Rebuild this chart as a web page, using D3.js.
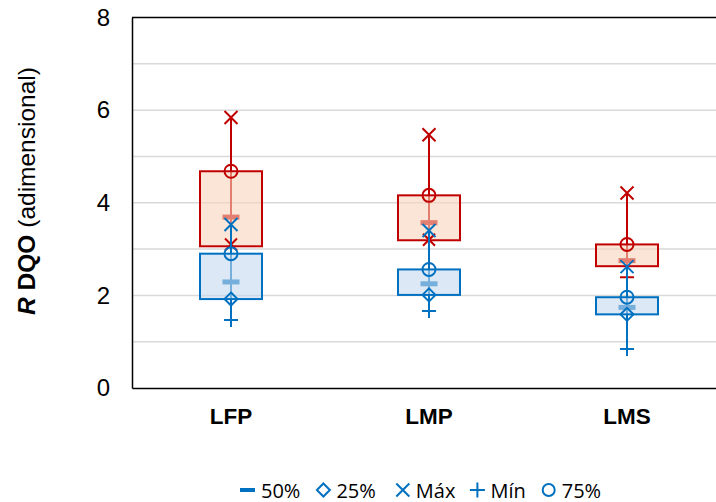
<!DOCTYPE html>
<html><head><meta charset="utf-8">
<script src="https://cdn.jsdelivr.net/npm/d3@7"></script>
<style>
html,body{margin:0;padding:0;background:#fff;}
svg{display:block;font-family:"Liberation Sans",Arial,sans-serif;}
</style></head>
<body>
<svg id="chart" width="716" height="502"></svg>
<script>
// ---- data ----
const categories = ["LFP", "LMP", "LMS"];
const yTicks = [0, 2, 4, 6, 8];
const gridValues = [1, 2, 3, 4, 5, 6, 7];

// upper (red) series
const redMax = [5.84, 5.47, 4.21];
const redP75 = [4.68, 4.16, 3.10];
const redP50 = [3.69, 3.57, 2.75];
const redP25 = [3.06, 3.19, 2.63];
const redMin = [3.10, 3.20, 2.39];

// lower (blue) series
const blueMax = [3.53, 3.40, 2.62];
const blueP75 = [2.90, 2.56, 1.96];
const blueP50 = [2.29, 2.25, 1.74];
const blueP25 = [1.92, 2.01, 1.59];
const blueMin = [1.47, 1.66, 0.84];

const legendLabels = ["50%", "25%", "Máx", "Mín", "75%"];

// ---- styles ----
const RED = "#c00000", BLUE = "#0070c0";
const redMinShape = ["x", "x", "plus"];

(function () {
const svg = d3.select("#chart");
const mLeft = 132, mTop = 17.5, mBottom = 388, bandW = 198;
const x = d3.scaleBand().domain(categories).range([mLeft, mLeft + bandW * categories.length]).padding(0);
const y = d3.scaleLinear().domain([0, 8]).range([mBottom, mTop]);
const cx = c => x(c) + x.bandwidth() / 2;
const boxW = 62;

// gridlines
svg.append("g").selectAll("line").data(gridValues).join("line")
  .attr("x1", mLeft).attr("x2", 716)
  .attr("y1", d => y(d)).attr("y2", d => y(d))
  .attr("stroke", "#d9d9d9").attr("stroke-width", 1.5);

// axes
const yAxis = d3.axisLeft(y).tickValues(yTicks).tickSize(0).tickPadding(22).tickFormat(d3.format("d"));
const gy = svg.append("g").attr("transform", `translate(${mLeft},0)`).call(yAxis);
gy.select(".domain").attr("stroke", "#000").attr("stroke-width", 1.5);
gy.selectAll("text").attr("font-size", 24).attr("fill", "#000")
  .attr("font-family", "Liberation Sans, Arial, sans-serif");

const xAxis = d3.axisBottom(x).tickSize(0).tickPadding(20);
const gx = svg.append("g").attr("transform", `translate(0,${mBottom})`).call(xAxis);
gx.select(".domain").attr("stroke", "#000").attr("stroke-width", 1.5);
gx.selectAll("text").attr("font-size", 22.5).attr("font-weight", "bold").attr("fill", "#000")
  .attr("font-family", "Liberation Sans, Arial, sans-serif");

// top border
svg.append("line").attr("x1", mLeft).attr("x2", 716).attr("y1", y(8)).attr("y2", y(8))
  .attr("stroke", "#000").attr("stroke-width", 1.5);

// y title
const title = svg.append("text")
  .attr("transform", `translate(26,191) rotate(-90)`)
  .attr("text-anchor", "middle").attr("dominant-baseline", "central")
  .attr("font-size", 24.5).attr("fill", "#000");
title.append("tspan").attr("font-weight", "bold").attr("font-style", "italic").text("R");
title.append("tspan").attr("font-weight", "bold").text(" DQO");
title.append("tspan").text(" (adimensional)");

// symbol paths
const sym = {
  x: s => `M${-s},${-s}L${s},${s}M${-s},${s}L${s},${-s}`,
  plus: s => `M${-s},0L${s},0M0,${-s}L0,${s}`,
  diamond: s => `M0,${-s}L${s},0L0,${s}L${-s},0Z`
};

function drawSeries(color, fillColor, mx, p75, p50, p25, mn, minShapes, showDiamond) {
  const g = svg.append("g");
  categories.forEach((c, i) => {
    const X = cx(c);
    g.append("line").attr("x1", X).attr("x2", X).attr("y1", y(mx[i])).attr("y2", y(mn[i]))
      .attr("stroke", color).attr("stroke-width", 2);
    g.append("rect").attr("x", X - 8.5).attr("y", y(p50[i]) - 2.5).attr("width", 17).attr("height", 5)
      .attr("fill", color);
    g.append("rect").attr("x", X - boxW / 2).attr("y", y(p75[i]))
      .attr("width", boxW).attr("height", y(p25[i]) - y(p75[i]))
      .attr("fill", fillColor).attr("fill-opacity", 0.6)
      .attr("stroke", color).attr("stroke-width", 2);
    g.append("circle").attr("cx", X).attr("cy", y(p75[i])).attr("r", 6.5)
      .attr("fill", "none").attr("stroke", color).attr("stroke-width", 2);
    if (showDiamond) {
      g.append("path").attr("transform", `translate(${X},${y(p25[i])})`).attr("d", sym.diamond(6.5))
        .attr("fill", "none").attr("stroke", color).attr("stroke-width", 2);
    }
    g.append("path").attr("transform", `translate(${X},${y(mx[i])})`).attr("d", sym.x(6.5))
      .attr("fill", "none").attr("stroke", color).attr("stroke-width", 2);
    g.append("path").attr("transform", `translate(${X},${y(mn[i])})`).attr("d", sym[minShapes[i]](minShapes[i] === "x" ? 6 : 7))
      .attr("fill", "none").attr("stroke", color).attr("stroke-width", 2);
  });
}

drawSeries(RED, "#f8d4bb", redMax, redP75, redP50, redP25, redMin, redMinShape, false);
drawSeries(BLUE, "#c5d9ee", blueMax, blueP75, blueP50, blueP25, blueMin, ["plus", "plus", "plus"], true);

// legend
const lg = svg.append("g").attr("font-family", "Open Sans, Liberation Sans, sans-serif");
const ly = 490;
let lx = 240;
const kinds = ["dash", "diamond", "x", "plus", "circle"];
const gapsAfter = [16, 20, 15, 16, 0];
legendLabels.forEach((lab, i) => {
  const k = kinds[i];
  const mw = k === "dash" ? 15 : 14;
  const mcx = lx + mw / 2;
  if (k === "dash") {
    lg.append("rect").attr("x", lx).attr("y", ly - 2).attr("width", 15).attr("height", 4).attr("fill", BLUE);
  } else if (k === "circle") {
    lg.append("circle").attr("cx", mcx).attr("cy", ly).attr("r", 6).attr("fill", "none").attr("stroke", BLUE).attr("stroke-width", 2);
  } else {
    lg.append("path").attr("transform", `translate(${mcx},${ly})`).attr("d", sym[k](k === "plus" ? 7.5 : 6.5))
      .attr("fill", "none").attr("stroke", BLUE).attr("stroke-width", 2);
  }
  const t = lg.append("text").attr("x", lx + mw + 6).attr("y", ly).attr("dominant-baseline", "central")
    .attr("font-size", 20).attr("fill", "#000").text(lab);
  lx = lx + mw + 6 + t.node().getComputedTextLength() + gapsAfter[i];
});
})();
</script>
</body></html>
